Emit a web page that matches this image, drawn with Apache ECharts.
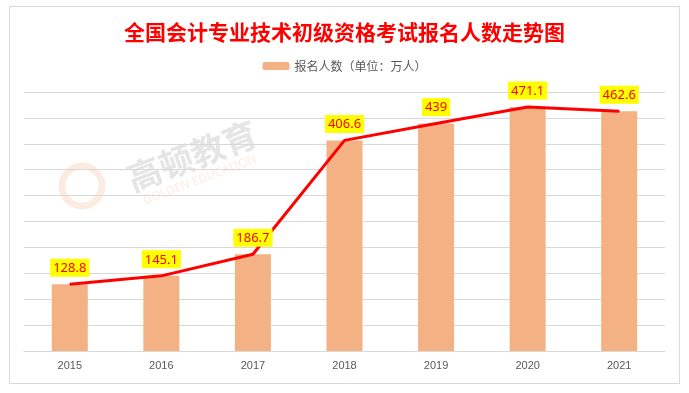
<!DOCTYPE html>
<html><head><meta charset="utf-8">
<script src="https://cdn.jsdelivr.net/npm/echarts@6/dist/echarts.min.js"></script>
<style>html,body{margin:0;padding:0;background:#fff;}#c{width:689px;height:393px;}</style>
</head><body><div id="c"></div>
<script>
const categories = ['2015','2016','2017','2018','2019','2020','2021'];
const applicants = [128.8, 145.1, 186.7, 406.6, 439, 471.1, 462.6];
const seriesName = '报名人数（单位：万人）';
const titleText = '全国会计专业技术初级资格考试报名人数走势图';

const chart = echarts.init(document.getElementById('c'));
chart.setOption({
  animation: false,
  backgroundColor: '#fff',
  title: {
    text: titleText, left: 'center', top: 17,
    textStyle: { color: '#FF0000', fontSize: 21, fontWeight: 'bold', fontFamily: '"Noto Sans CJK SC", sans-serif' }
  },
  legend: {
    data: [seriesName], top: 55, left: 'center', itemWidth: 27, itemHeight: 8, itemGap: 4,
    textStyle: { color: '#595959', fontSize: 12, fontFamily: '"Noto Sans CJK SC", sans-serif' }
  },
  graphic: [
    { type: 'rect', shape: { x: 9.5, y: 6.5, width: 670, height: 377 }, style: { fill: 'none', stroke: '#d9d9d9', lineWidth: 1 }, z: -10 },
    { type: 'text', x: 192, y: 156, rotation: 0.36, style: { text: '高顿教育', fill: 'rgba(160,160,160,0.28)', font: 'bold 34px "Noto Sans CJK SC"', align: 'center', verticalAlign: 'middle' }, z: -5 },
    { type: 'text', x: 200, y: 180, rotation: 0.36, style: { text: 'GOLDEN EDUCATION', fill: 'rgba(244,177,131,0.25)', font: '12px "Noto Sans"', align: 'center', verticalAlign: 'middle' }, z: -5 },
    { type: 'circle', shape: { cx: 82, cy: 186, r: 20 }, style: { fill: 'none', stroke: 'rgba(244,177,131,0.25)', lineWidth: 7 }, z: -5 }
  ],
  grid: { left: 24, right: 24, top: 92, bottom: 42 },
  xAxis: {
    type: 'category', data: categories,
    axisLine: { lineStyle: { color: '#d9d9d9' } },
    axisTick: { show: false },
    axisLabel: { color: '#595959', fontSize: 11, margin: 9 }
  },
  yAxis: {
    type: 'value', min: 0, max: 500, interval: 50,
    axisLabel: { show: false }, axisLine: { show: false }, axisTick: { show: false },
    splitLine: { lineStyle: { color: '#d9d9d9' } }
  },
  series: [
    {
      name: seriesName, type: 'bar', data: applicants, barWidth: 36,
      itemStyle: { color: '#F4B183' }, z: 2
    },
    {
      name: 'line', type: 'line', data: applicants, symbol: 'circle', symbolSize: 1, showSymbol: true,
      itemStyle: { color: '#FF0000' },
      lineStyle: { color: '#FF0000', width: 3 }, z: 3,
      label: {
        show: true, position: 'top', distance: 7,
        color: '#FF0000', backgroundColor: '#FFFF00', padding: [3, 3, 2, 3],
        fontSize: 13, fontFamily: '"Noto Sans", sans-serif'
      }
    }
  ]
});
</script></body></html>
